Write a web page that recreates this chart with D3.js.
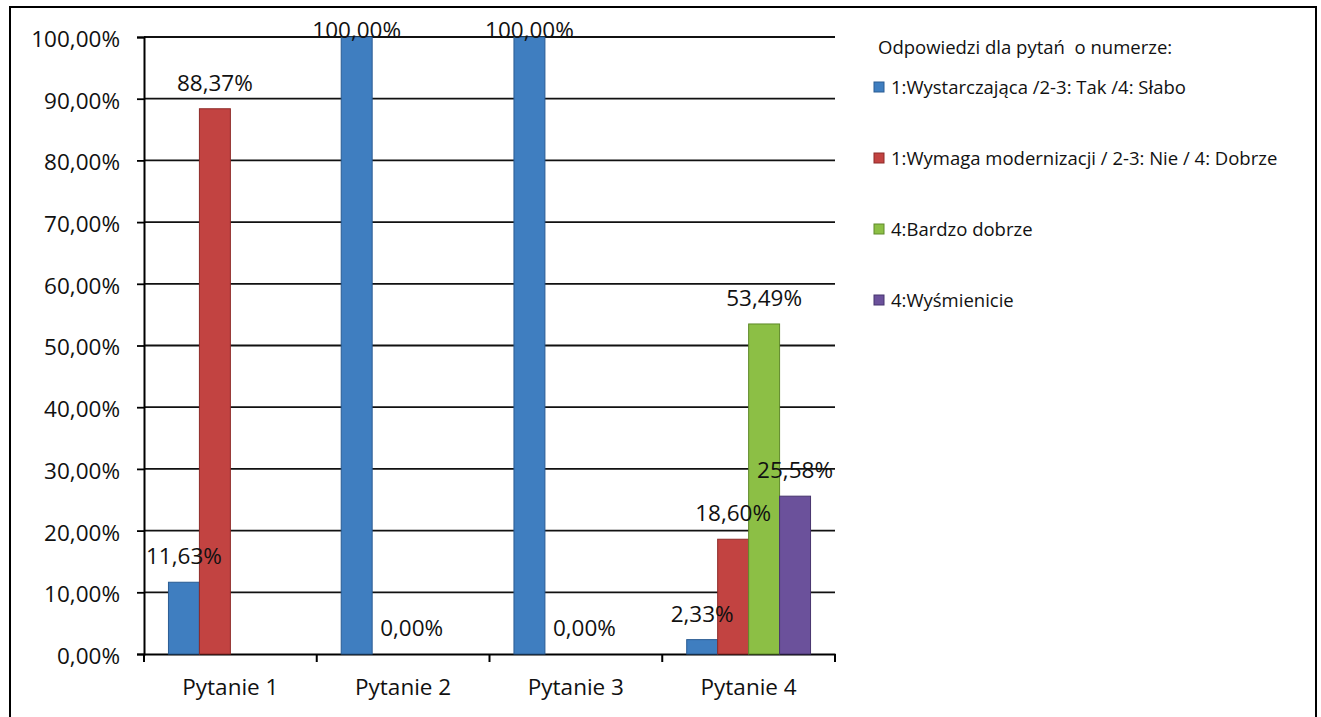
<!DOCTYPE html>
<html>
<head>
<meta charset="utf-8">
<script src="https://cdn.jsdelivr.net/npm/d3@7"></script>
<style>
  body { margin: 0; background: #fff; }
  text { font-family: "Open Sans", "Noto Sans", sans-serif; fill: #111; }
</style>
</head>
<body>
<div id="chart"></div>
<script>
var categories = ["Pytanie 1", "Pytanie 2", "Pytanie 3", "Pytanie 4"],
series_names = ["1:Wystarczająca /2-3: Tak /4: Słabo",
                "1:Wymaga modernizacji / 2-3: Nie / 4: Dobrze",
                "4:Bardzo dobrze",
                "4:Wyśmienicie"],
// values in percent, null = no bar / no label
s_blue = [11.63, 100, 100, 2.33],
s_red = [88.37, 0, 0, 18.60],
s_green = [null, null, null, 53.49],
s_purple = [null, null, null, 25.58],
y_ticks = [0, 10, 20, 30, 40, 50, 60, 70, 80, 90, 100],
legend_title = "Odpowiedzi dla pytań  o numerze:",
COLORS = ["#3f7ec0", "#c24341", "#8cbf45", "#6b519b"],
STROKES = ["#2a5c93", "#8e2a28", "#5f8a2a", "#47356e"];

var W = 1321, H = 717,
PLOT_L = 144, PLOT_R = 835, PLOT_T = 37, PLOT_B = 654,
FONT = "22.5px", LEG_FONT = "18.5px";

var all_series = [s_blue, s_red, s_green, s_purple];

var svg = d3.select("#chart").append("svg")
  .attr("width", W)
  .attr("height", H);

// outer frame (bottom edge falls off the page)
svg.append("rect")
  .attr("x", 10).attr("y", 7)
  .attr("width", 1306).attr("height", 730)
  .style("fill", "none")
  .style("stroke", "#000")
  .style("stroke-width", 2);

var x = d3.scaleBand().domain(categories).range([PLOT_L, PLOT_R]).paddingInner(0).paddingOuter(0),
xs = d3.scaleBand().domain(d3.range(4)).range([0, x.bandwidth()]).paddingOuter(0.79).paddingInner(0),
y = d3.scaleLinear().domain([0, 100]).range([PLOT_B, PLOT_T]);

// gridlines
svg.append("g").selectAll("line")
  .data(y_ticks.filter(function(d) { return d > 0; }))
  .enter().append("line")
  .attr("x1", PLOT_L).attr("x2", PLOT_R)
  .attr("y1", function(d) { return y(d); })
  .attr("y2", function(d) { return y(d); })
  .style("stroke", "#111")
  .style("stroke-width", 1.8);

// y axis
var y_axis = d3.axisLeft(y)
  .tickValues(y_ticks)
  .tickSize(7)
  .tickPadding(17)
  .tickFormat(function(d) { return d3.format(".2f")(d).replace(".", ",") + "%"; });

var gy = svg.append("g").attr("transform", "translate(" + PLOT_L + ",0)").call(y_axis);
gy.select(".domain").style("stroke", "#000").style("stroke-width", 2);
gy.selectAll(".tick line").style("stroke", "#000").style("stroke-width", 1.8);
gy.selectAll(".tick text")
  .style("font-size", FONT)
  .attr("dy", "0.42em")
  .style("fill", "#111");

// x axis
var x_axis = d3.axisBottom(x).tickSize(0).tickPadding(25);
var gx = svg.append("g").attr("transform", "translate(0," + PLOT_B + ")").call(x_axis);
gx.select(".domain").style("stroke", "#000").style("stroke-width", 2);
gx.selectAll(".tick text").style("font-size", FONT).style("fill", "#111");

// category separator ticks
svg.append("g").selectAll("line")
  .data(categories.concat(["end"]))
  .enter().append("line")
  .attr("x1", function(d, i) { return i < categories.length ? x(d) : PLOT_R; })
  .attr("x2", function(d, i) { return i < categories.length ? x(d) : PLOT_R; })
  .attr("y1", PLOT_B)
  .attr("y2", PLOT_B + 8)
  .style("stroke", "#000")
  .style("stroke-width", 2);

// bars
all_series.forEach(function(vals, si) {
  var g = svg.append("g");
  g.selectAll("rect")
    .data(vals.map(function(v, i) { return {cat: categories[i], v: v}; })
      .filter(function(d) { return d.v !== null && d.v > 0; }))
    .enter().append("rect")
    .attr("x", function(d) { return x(d.cat) + xs(si); })
    .attr("width", xs.bandwidth())
    .attr("y", function(d) { return y(d.v); })
    .attr("height", function(d) { return PLOT_B - y(d.v); })
    .style("fill", COLORS[si])
    .style("stroke", STROKES[si])
    .style("stroke-width", 1);
});

// data labels
all_series.forEach(function(vals, si) {
  svg.append("g").selectAll("text")
    .data(vals.map(function(v, i) { return {cat: categories[i], v: v}; })
      .filter(function(d) { return d.v !== null; }))
    .enter().append("text")
    .attr("x", function(d) { return x(d.cat) + xs(si) + xs.bandwidth() / 2 + (d.v === 0 ? 24 : 0); })
    .attr("y", function(d) { return Math.max(y(d.v) - 18, PLOT_T + 1); })
    .attr("text-anchor", "middle")
    .style("font-size", FONT)
    .text(function(d) { return d3.format(".2f")(d.v).replace(".", ",") + "%"; });
});

// legend
var lg = svg.append("g").attr("transform", "translate(878,0)");
lg.append("text")
  .attr("x", 0).attr("y", 54)
  .style("font-size", LEG_FONT)
  .style("white-space", "pre")
  .text(legend_title);

var item = lg.selectAll("g.item")
  .data(series_names)
  .enter().append("g")
  .attr("class", "item")
  .attr("transform", function(d, i) { return "translate(0," + (87 + i * 71) + ")"; });

item.append("rect")
  .attr("x", -4).attr("y", -5)
  .attr("width", 10).attr("height", 10)
  .style("fill", function(d, i) { return COLORS[i]; })
  .style("stroke", function(d, i) { return STROKES[i]; });

item.append("text")
  .attr("x", 13).attr("y", 7)
  .style("font-size", LEG_FONT)
  .text(function(d) { return d; });
</script>
</body>
</html>
